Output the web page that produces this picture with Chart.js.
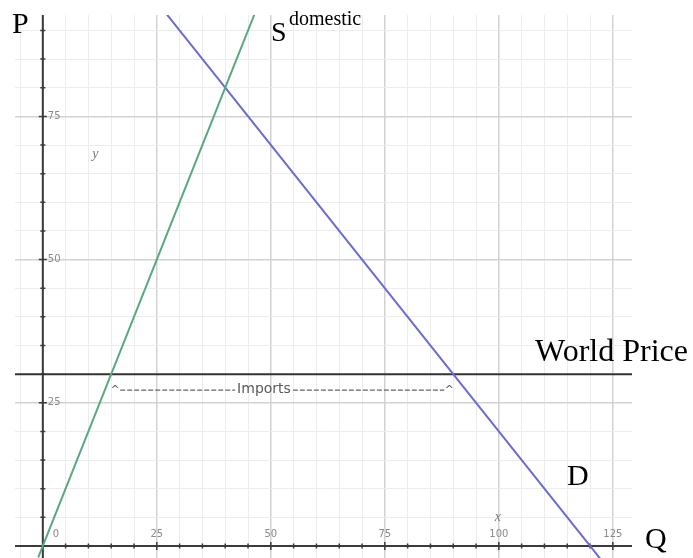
<!DOCTYPE html>
<html>
<head>
<meta charset="utf-8">
<script src="https://cdn.jsdelivr.net/npm/chart.js@4"></script>
<style>
  html, body { margin: 0; padding: 0; background: #fff; }
  #wrap { position: relative; width: 693px; height: 558px; }
</style>
</head>
<body>
<div id="wrap"><canvas id="chart"></canvas></div>
<script>
// Values (Q on x, P on y)
const supplyQ = [-1, 0, 40, 47];
const supplyP = [-2, 0, 80, 94];
const demandQ = [25, 40, 90, 120, 123];
const demandP = [95, 80, 30, 0, -3];
const worldQ = [-7, 130];
const worldP = [30, 30];
const importsFrom = 15;   // domestic supply at world price
const importsTo = 90;     // demand at world price
const xTickLabels = [0, 25, 50, 75, 100, 125];
const yTickLabels = [25, 50, 75];

const toPoints = (xs, ys) => xs.map((x, i) => ({ x: x, y: ys[i] }));

const range = (a, b, s) => {
  const out = [];
  for (let v = a; v <= b; v += s) out.push({ value: v });
  return out;
};

// Axes, ticks, tick labels and the text labels on the chart
const overlay = {
  id: 'overlay',
  beforeDatasetsDraw(chart) {
    const { ctx, chartArea: a, scales: { x, y } } = chart;
    const x0 = x.getPixelForValue(0);
    const y0 = y.getPixelForValue(0);
    ctx.save();
    ctx.strokeStyle = '#3a3a3a';
    ctx.lineWidth = 2;
    ctx.beginPath();
    ctx.moveTo(x0, a.top); ctx.lineTo(x0, a.bottom);
    ctx.moveTo(a.left, y0); ctx.lineTo(a.right, y0);
    ctx.stroke();

    // small tick marks every 5 units
    ctx.lineWidth = 1.5;
    ctx.beginPath();
    for (let v = 5; v <= 125; v += 5) {
      const px = x.getPixelForValue(v);
      const len = v % 25 === 0 ? 4 : 2.5;
      ctx.moveTo(px, y0 - len); ctx.lineTo(px, y0 + len);
    }
    for (let v = 5; v <= 90; v += 5) {
      const py = y.getPixelForValue(v);
      const len = v % 25 === 0 ? 4 : 2.5;
      ctx.moveTo(x0 - len, py); ctx.lineTo(x0 + len, py);
    }
    ctx.stroke();

    // tick labels
    ctx.fillStyle = '#8a8a8a';
    ctx.font = '10px "DejaVu Sans"';
    ctx.textBaseline = 'alphabetic';
    ctx.textAlign = 'center';
    xTickLabels.forEach(v => {
      const px = v === 0 ? x0 + 13 : x.getPixelForValue(v);
      ctx.fillText(String(v), px, y0 - 9);
    });
    ctx.textAlign = 'left';
    ctx.textBaseline = 'middle';
    yTickLabels.forEach(v => {
      ctx.fillText(String(v), x0 + 5, y.getPixelForValue(v));
    });

    // italic axis letters
    ctx.fillStyle = '#777';
    ctx.font = 'italic 14px "Liberation Serif"';
    ctx.textAlign = 'center';
    ctx.fillText('x', x.getPixelForValue(99.8), y.getPixelForValue(5));
    ctx.fillText('y', x.getPixelForValue(11.5), y.getPixelForValue(68.3));
    ctx.restore();
  },
  afterDatasetsDraw(chart) {
    const { ctx, scales: { x, y } } = chart;
    ctx.save();

    // Imports annotation under the world price line
    const iy = y.getPixelForValue(27.4);
    const ix1 = x.getPixelForValue(importsFrom) + 1;
    const ix2 = x.getPixelForValue(importsTo) - 1;
    const tx = x.getPixelForValue(48.5);
    ctx.font = '14px "DejaVu Sans"';
    ctx.fillStyle = '#5a5a5a';
    ctx.textAlign = 'center';
    ctx.textBaseline = 'middle';
    ctx.fillText('Imports', tx, iy);
    const half = ctx.measureText('Imports').width / 2 + 2;
    ctx.strokeStyle = '#666';
    ctx.lineWidth = 1.2;
    ctx.setLineDash([5, 2]);
    ctx.beginPath();
    ctx.moveTo(ix1 + 8, iy + 1); ctx.lineTo(tx - half, iy + 1);
    ctx.moveTo(tx + half, iy + 1); ctx.lineTo(ix2 - 8, iy + 1);
    ctx.stroke();
    ctx.setLineDash([]);
    ctx.font = '11px "DejaVu Sans"';
    ctx.fillText('^', ix1 + 3, iy + 1);
    ctx.fillText('^', ix2 - 3, iy + 1);

    // big serif labels
    ctx.fillStyle = '#000';
    ctx.textAlign = 'left';
    ctx.textBaseline = 'alphabetic';
    ctx.font = '30px "Liberation Serif"';
    ctx.fillText('P', 12, 33);
    ctx.fillText('D', 567, 485);
    ctx.fillText('Q', 645, 548);
    ctx.font = '32px "Liberation Serif"';
    ctx.fillText('World Price', 535, 361);
    ctx.font = '28px "Liberation Serif"';
    ctx.fillText('S', 271, 41);
    ctx.font = '20px "Liberation Serif"';
    ctx.fillText('domestic', 289, 25);
    ctx.restore();
  }
};

const gridColor = ctx => (ctx.tick && ctx.tick.value % 25 === 0 ? '#d2d2d2' : '#ececec');
const gridWidth = ctx => (ctx.tick && ctx.tick.value % 25 === 0 ? 1.5 : 1);

new Chart(document.getElementById('chart'), {
  type: 'scatter',
  data: {
    datasets: [
      {
        label: 'S domestic',
        data: toPoints(supplyQ, supplyP),
        showLine: true,
        borderColor: '#5aa882',
        borderWidth: 2,
        pointRadius: 0
      },
      {
        label: 'D',
        data: toPoints(demandQ, demandP),
        showLine: true,
        borderColor: '#6b6bd2',
        borderWidth: 2,
        pointRadius: 0
      },
      {
        label: 'World Price',
        data: toPoints(worldQ, worldP),
        showLine: true,
        borderColor: '#333',
        borderWidth: 2,
        pointRadius: 0
      }
    ]
  },
  options: {
    responsive: true,
    maintainAspectRatio: false,
    animation: false,
    layout: { padding: { left: 15, top: 15, right: 61, bottom: 0 } },
    plugins: { legend: { display: false }, tooltip: { enabled: false } },
    scales: {
      x: {
        type: 'linear',
        min: -6.1,
        max: 129.2,
        afterBuildTicks: s => { s.ticks = range(-5, 125, 5); },
        ticks: { display: false },
        border: { display: false },
        grid: { color: gridColor, lineWidth: gridWidth, drawTicks: false }
      },
      y: {
        type: 'linear',
        min: -2.1,
        max: 92.7,
        afterBuildTicks: s => { s.ticks = range(0, 90, 5); },
        ticks: { display: false },
        border: { display: false },
        grid: { color: gridColor, lineWidth: gridWidth, drawTicks: false }
      }
    }
  },
  plugins: [overlay]
});
</script>
</body>
</html>
